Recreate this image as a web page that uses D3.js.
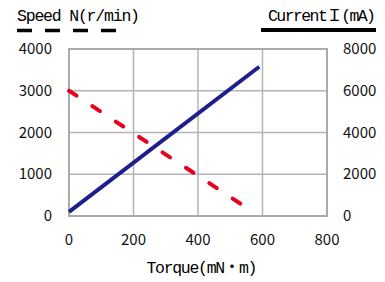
<!DOCTYPE html>
<html>
<head>
<meta charset="utf-8">
<script src="https://cdn.jsdelivr.net/npm/d3@7"></script>
<style>
  body { margin: 0; background: #fff; }
  svg { display: block; }
  .mono { font-family: "Liberation Mono", "Noto Sans CJK JP", monospace; }
  .tick-lbl { font-family: "Noto Sans CJK JP", "Noto Sans", sans-serif; font-size: 15px; fill: #111; }
</style>
</head>
<body>
<div id="chart"></div>
<script>
// torque (mN·m) vs speed and current
const torqueTicks = [0, 200, 400, 600, 800];
const speedTicks = [0, 1000, 2000, 3000, 4000];
const currentTicks = [0, 2000, 4000, 6000, 8000];

const speedData = [[0, 3000], [560, 150]];   // dashed red, left axis
const currentData = [[0, 200], [590, 7150]]; // solid navy, right axis

let width = 385, height = 282;
let plot = {left: 69, right: 327, top: 49, bottom: 216};

let svg = d3.select("#chart").append("svg")
    .attr("width", width)
    .attr("height", height);

let x = d3.scaleLinear().domain([0, 800]).range([plot.left, plot.right]);
let ySpeed = d3.scaleLinear().domain([0, 4000]).range([plot.bottom, plot.top]);
let yCurr = d3.scaleLinear().domain([0, 8000]).range([plot.bottom, plot.top]);

// grid
let grid = svg.append("g")
    .attr("stroke", "#b4b4b4")
    .attr("stroke-width", 1.5);
grid.selectAll(".gx").data(torqueTicks).join("line")
    .attr("class", "gx")
    .attr("x1", d => x(d)).attr("x2", d => x(d))
    .attr("y1", plot.top).attr("y2", plot.bottom);
grid.selectAll(".gy").data(speedTicks).join("line")
    .attr("class", "gy")
    .attr("y1", d => ySpeed(d)).attr("y2", d => ySpeed(d))
    .attr("x1", plot.left).attr("x2", plot.right);
svg.append("rect")
    .attr("x", plot.left).attr("y", plot.top)
    .attr("width", plot.right - plot.left).attr("height", plot.bottom - plot.top)
    .attr("fill", "none").attr("stroke", "#aaa").attr("stroke-width", 2);

// tick labels
svg.append("g").selectAll("text").data(speedTicks).join("text")
    .attr("class", "tick-lbl")
    .attr("x", 52).attr("y", d => ySpeed(d) + 5)
    .attr("text-anchor", "end")
    .text(d => d);
svg.append("g").selectAll("text").data(currentTicks).join("text")
    .attr("class", "tick-lbl")
    .attr("x", 343).attr("y", d => yCurr(d) + 5)
    .text(d => d);
svg.append("g").selectAll("text").data(torqueTicks).join("text")
    .attr("class", "tick-lbl")
    .attr("x", d => x(d)).attr("y", 245)
    .attr("text-anchor", "middle")
    .text(d => d);

// series
let speedLine = d3.line().x(d => x(d[0])).y(d => ySpeed(d[1]));
let currLine = d3.line().x(d => x(d[0])).y(d => yCurr(d[1]));

svg.append("path")
    .datum(speedData)
    .attr("d", speedLine)
    .attr("fill", "none")
    .attr("stroke", "#e8001e")
    .attr("stroke-width", 4)
    .attr("stroke-linecap", "round")
    .attr("stroke-dasharray", "9,19");

svg.append("path")
    .datum(currentData)
    .attr("d", currLine)
    .attr("fill", "none")
    .attr("stroke", "#1e1e8c")
    .attr("stroke-width", 4);

// titles / legend keys
svg.append("text").attr("class", "mono")
    .attr("x", 17).attr("y", 21)
    .attr("font-size", 16.5)
    .attr("textLength", 123)
    .text("Speed N(r/min)");
svg.append("line")
    .attr("x1", 17).attr("x2", 120)
    .attr("y1", 30.5).attr("y2", 30.5)
    .attr("stroke", "#000").attr("stroke-width", 3.5)
    .attr("stroke-dasharray", "15,13");

svg.append("text").attr("class", "mono")
    .attr("x", 268).attr("y", 21)
    .attr("font-size", 16.5)
    .attr("textLength", 108)
    .text("CurrentＩ(mA)");
svg.append("line")
    .attr("x1", 261).attr("x2", 376)
    .attr("y1", 30).attr("y2", 30)
    .attr("stroke", "#000").attr("stroke-width", 4);

svg.append("text").attr("class", "mono")
    .attr("x", 202).attr("y", 273)
    .attr("text-anchor", "middle")
    .attr("font-size", 16.5)
    .attr("textLength", 111)
    .text("Torque(mN・m)");
</script>
</body>
</html>
